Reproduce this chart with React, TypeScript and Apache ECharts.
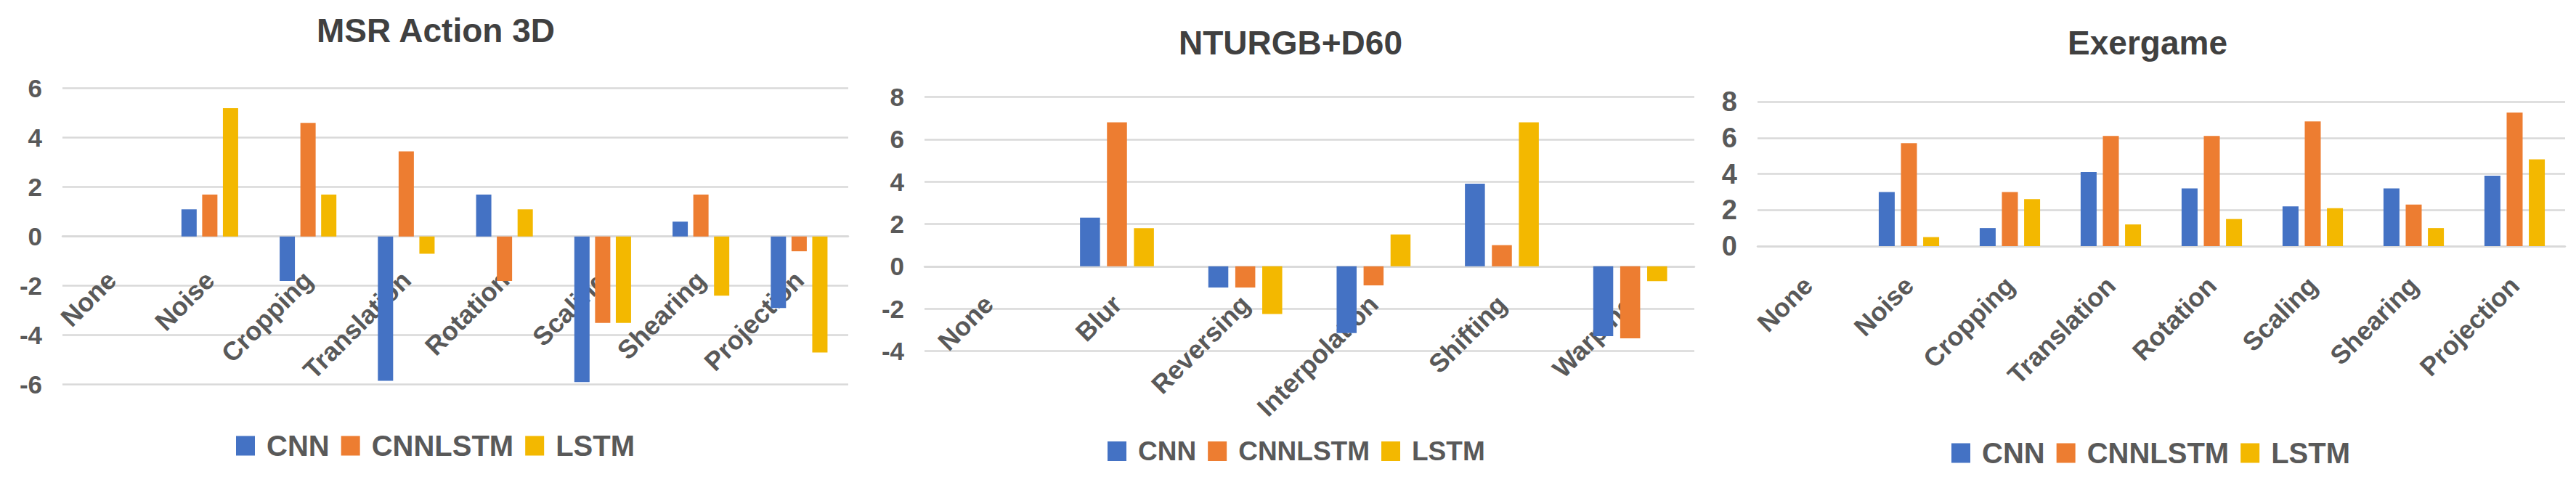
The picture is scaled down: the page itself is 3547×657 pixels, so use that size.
import React, { useEffect, useRef } from "react";
import * as echarts from "echarts";

// ---- Data ----
const msrCategories = ["None", "Noise", "Cropping", "Translation", "Rotation", "Scaling", "Shearing", "Projection"];
const msrCNN = [0, 1.1, -1.8, -5.85, 1.7, -5.9, 0.6, -2.9];
const msrCNNLSTM = [0, 1.7, 4.6, 3.45, -1.8, -3.5, 1.7, -0.6];
const msrLSTM = [0, 5.2, 1.7, -0.7, 1.1, -3.5, -2.4, -4.7];

const ntuCategories = ["None", "Blur", "Reversing", "Interpolation", "Shifting", "Warping"];
const ntuCNN = [0, 2.3, -1.0, -3.15, 3.9, -3.3];
const ntuCNNLSTM = [0, 6.8, -1.0, -0.9, 1.0, -3.4];
const ntuLSTM = [0, 1.8, -2.25, 1.5, 6.8, -0.7];

const exCategories = ["None", "Noise", "Cropping", "Translation", "Rotation", "Scaling", "Shearing", "Projection"];
const exCNN = [0, 3.0, 1.0, 4.1, 3.2, 2.2, 3.2, 3.9];
const exCNNLSTM = [0, 5.7, 3.0, 6.1, 6.1, 6.9, 2.3, 7.4];
const exLSTM = [0, 0.5, 2.6, 1.2, 1.5, 2.1, 1.0, 4.8];

const seriesNames = ["CNN", "CNNLSTM", "LSTM"];
const titles = ["MSR Action 3D", "NTURGB+D60", "Exergame"];

const COLORS = ["#4472C4", "#ED7D31", "#F3B800"];
const FONT = "'Liberation Sans', Arial, sans-serif";
const GRID_COLOR = "#D9D9D9";
const TEXT_COLOR = "#595959";

export default function App() {
  const ref = useRef<HTMLDivElement>(null);

  useEffect(() => {
    document.body.style.margin = "0";
    if (!ref.current) return;
    const chart = echarts.init(ref.current, null, { renderer: "svg" });

    const panels = [
      {
        cats: msrCategories, data: [msrCNN, msrCNNLSTM, msrLSTM],
        grid: { left: 86, top: 121.7, width: 1082, height: 408 },
        min: -6, max: 6, barWidth: 21, barGap: "36%", tickSize: 35, labelMargin: 54,
        titleX: 600, titleTop: 19, legendLeft: 325, legendTop: 594, legendFont: 40,
      },
      {
        cats: ntuCategories, data: [ntuCNN, ntuCNNLSTM, ntuLSTM],
        grid: { left: 1273, top: 133.5, width: 1060, height: 350 },
        min: -4, max: 8, barWidth: 27.5, barGap: "35%", tickSize: 35, labelMargin: 46,
        titleX: 1777, titleTop: 36, legendLeft: 1525, legendTop: 603, legendFont: 37,
      },
      {
        cats: exCategories, data: [exCNN, exCNNLSTM, exLSTM],
        grid: { left: 2420, top: 140, width: 1112, height: 199 },
        min: 0, max: 8, barWidth: 22, barGap: "39%", tickSize: 38, labelMargin: 48,
        titleX: 2957, titleTop: 36, legendLeft: 2687, legendTop: 604, legendFont: 40,
      },
    ];

    const option: any = {
      animation: false,
      backgroundColor: "#ffffff",
      title: panels.map((p, i) => ({
        text: titles[i],
        left: p.titleX,
        top: p.titleTop,
        textAlign: "center",
        padding: 0,
        textStyle: { fontFamily: FONT, fontSize: 46, fontWeight: "bold", color: "#404040" },
      })),
      legend: panels.map((p) => ({
        data: seriesNames,
        left: p.legendLeft,
        top: p.legendTop,
        padding: 0,
        itemWidth: 26,
        itemHeight: 27,
        itemGap: 16,
        icon: "rect",
        textStyle: {
          fontFamily: FONT, fontSize: p.legendFont, fontWeight: "bold", color: TEXT_COLOR,
          padding: [0, 0, 0, 11],
        },
      })),
      grid: panels.map((p) => ({ ...p.grid })),
      xAxis: panels.map((p, i) => ({
        type: "category",
        gridIndex: i,
        data: p.cats,
        position: "bottom",
        // move the whole axis (line + labels) up to the zero line
        offset: -(p.grid.height * (0 - p.min)) / (p.max - p.min),
        axisTick: { show: false },
        axisLine: { show: true, onZero: false, lineStyle: { color: GRID_COLOR, width: 2.5 } },
        axisLabel: {
          interval: 0,
          rotate: 45,
          margin: p.labelMargin,
          fontFamily: FONT,
          fontSize: 36,
          fontWeight: "bold",
          color: TEXT_COLOR,
        },
        splitLine: { show: false },
      })),
      yAxis: panels.map((p, i) => ({
        type: "value",
        gridIndex: i,
        min: p.min,
        max: p.max,
        interval: 2,
        axisLine: { show: false },
        axisTick: { show: false },
        axisLabel: {
          margin: 28,
          fontFamily: FONT,
          fontSize: p.tickSize,
          fontWeight: "bold",
          color: TEXT_COLOR,
        },
        splitLine: { show: true, lineStyle: { color: GRID_COLOR, width: 2.5 } },
      })),
      series: panels.flatMap((p, i) =>
        p.data.map((vals, s) => ({
          type: "bar",
          name: seriesNames[s],
          xAxisIndex: i,
          yAxisIndex: i,
          data: vals,
          barWidth: p.barWidth,
          barGap: p.barGap,
          itemStyle: { color: COLORS[s] },
        }))
      ),
    };

    chart.setOption(option);
    return () => chart.dispose();
  }, []);

  return <div ref={ref} style={{ width: 3547, height: 657 }} />;
}
